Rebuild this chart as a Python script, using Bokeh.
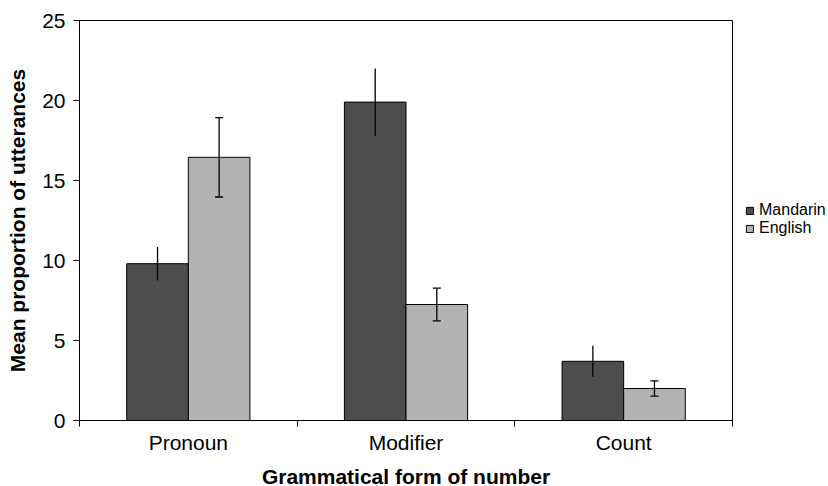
from bokeh.plotting import figure
from bokeh.models import (ColumnDataSource, Range1d, LinearAxis, FixedTicker,
                          Whisker, TeeHead, Legend, LegendItem)
from bokeh.embed import file_html
from bokeh.resources import INLINE

# ---- data ----
categories = ["Pronoun", "Modifier", "Count"]
mandarin = [9.8, 19.9, 3.7]
english = [16.45, 7.25, 2.0]
mandarin_err = [1.05, 2.1, 0.97]
english_err = [2.48, 1.02, 0.48]
y_ticks = [0, 5, 10, 15, 20, 25]

centers = [i + 0.5 for i in range(len(categories))]
bar_w = 0.283

FONT = "Liberation Sans"

p = figure(output_backend="svg", toolbar_location=None,
           frame_width=653, frame_height=400,
           min_border_left=79, min_border_top=20, min_border_right=96,
           min_border_bottom=60,
           x_range=Range1d(0, 3), y_range=Range1d(0, 25),
           x_axis_type=None, y_axis_type=None)
p.xgrid.visible = False
p.ygrid.visible = False
p.outline_line_color = "black"
p.outline_line_width = 1
p.background_fill_color = "white"
p.border_fill_color = "white"

src_m = ColumnDataSource(dict(x=[c - bar_w / 2 for c in centers], top=mandarin,
                              upper=[v + e for v, e in zip(mandarin, mandarin_err)],
                              lower=[v - e for v, e in zip(mandarin, mandarin_err)]))
src_e = ColumnDataSource(dict(x=[c + bar_w / 2 for c in centers], top=english,
                              upper=[v + e for v, e in zip(english, english_err)],
                              lower=[v - e for v, e in zip(english, english_err)]))

r_m = p.vbar(x="x", top="top", width=bar_w, source=src_m,
             fill_color="#4d4d4d", line_color="black", line_width=1)
r_e = p.vbar(x="x", top="top", width=bar_w, source=src_e,
             fill_color="#b3b3b3", line_color="black", line_width=1)

w_m = Whisker(base="x", upper="upper", lower="lower", source=src_m,
              line_color="black", line_width=1.3, upper_head=None, lower_head=None,
              level="overlay")
w_e = Whisker(base="x", upper="upper", lower="lower", source=src_e,
              line_color="black", line_width=1.3, level="overlay",
              upper_head=TeeHead(size=8, line_color="black", line_width=1.3),
              lower_head=TeeHead(size=8, line_color="black", line_width=1.3))
p.add_layout(w_m)
p.add_layout(w_e)

# y axis
yaxis = LinearAxis(ticker=FixedTicker(ticks=y_ticks, minor_ticks=[]),
                   axis_label="Mean proportion of utterances")
yaxis.axis_line_color = "black"
yaxis.major_tick_line_color = "black"
yaxis.major_tick_out = 6
yaxis.major_tick_in = 0
yaxis.minor_tick_line_color = None
yaxis.major_label_standoff = 8
yaxis.major_label_text_font = FONT
yaxis.major_label_text_font_size = "21px"
yaxis.major_label_text_color = "black"
yaxis.axis_label_text_font = FONT
yaxis.axis_label_text_font_size = "21px"
yaxis.axis_label_text_font_style = "bold"
yaxis.axis_label_text_color = "black"
yaxis.axis_label_standoff = 10
p.add_layout(yaxis, "left")

# x axis
xaxis = LinearAxis(ticker=FixedTicker(ticks=centers, minor_ticks=[0, 1, 2, 3]),
                   axis_label="Grammatical form of number")
xaxis.major_label_overrides = {c: n for c, n in zip(centers, categories)}
xaxis.axis_line_color = "black"
xaxis.major_tick_line_color = None
xaxis.major_tick_out = 0
xaxis.major_tick_in = 0
xaxis.minor_tick_line_color = "black"
xaxis.minor_tick_out = 6
xaxis.minor_tick_in = 0
xaxis.major_label_standoff = 4
xaxis.major_label_text_font = FONT
xaxis.major_label_text_font_size = "21px"
xaxis.major_label_text_color = "black"
xaxis.axis_label_text_font = FONT
xaxis.axis_label_text_font_size = "21px"
xaxis.axis_label_text_font_style = "bold"
xaxis.axis_label_text_color = "black"
xaxis.axis_label_standoff = 8
p.add_layout(xaxis, "below")

legend = Legend(items=[LegendItem(label="Mandarin", renderers=[r_m]),
                       LegendItem(label="English", renderers=[r_e])],
                location=(13, 183), padding=0, margin=0, spacing=0,
                glyph_width=9, glyph_height=9, label_standoff=5,
                label_text_font=FONT, label_text_font_size="16px",
                label_text_color="black", label_height=17,
                border_line_color=None, background_fill_alpha=0)
p.add_layout(legend, "right")

open("out.html", "w").write(file_html(p, INLINE))
